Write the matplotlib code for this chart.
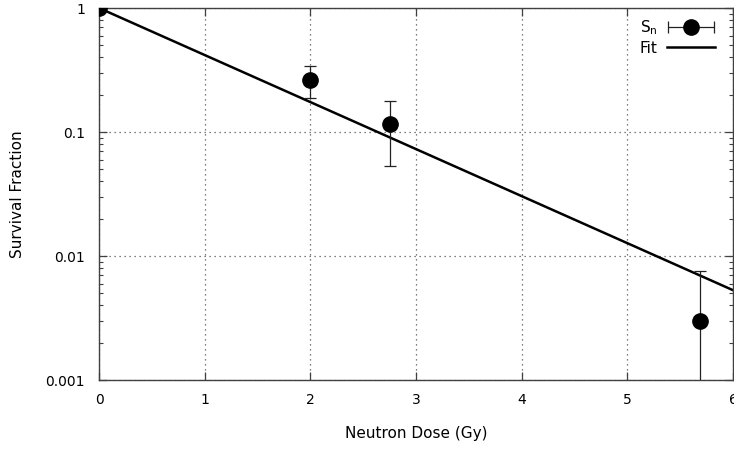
import numpy as np
import matplotlib
matplotlib.use('Agg')
import matplotlib.pyplot as plt
from matplotlib.ticker import LogLocator, NullFormatter, FixedLocator
from matplotlib.legend_handler import HandlerErrorbar

## data ##
dose = [0.0, 2.0, 2.75, 5.69]
sf = [1.0, 0.262, 0.115, 0.0030]
sf_hi = [1.0, 0.34, 0.178, 0.0075]      # top of error bar
sf_lo = [1.0, 0.187, 0.053, 0.0004]     # bottom of error bar (last one runs off the axis)

fit_dose = [0.0, 6.0]
fit_sf = [1.0, 0.0053]

x_ticks = [0, 1, 2, 3, 4, 5, 6]
y_ticks = [0.001, 0.01, 0.1, 1]
y_labels = ['0.001', '0.01', '0.1', '1']

axis_col = '#404040'

plt.rcParams['font.family'] = 'DejaVu Sans'
fig = plt.figure(figsize=(7.34, 4.5), dpi=100)
ax = fig.add_axes([99/734, 70/450, 634/734, 372/450])

yerr = [np.array(sf) - np.array(sf_lo), np.array(sf_hi) - np.array(sf)]
ax.errorbar(dose, sf, yerr=yerr, fmt='o', color='black', markersize=11,
            ecolor='#222222', elinewidth=0.9, capsize=4, capthick=0.9, zorder=3)
fit_line, = ax.plot(fit_dose, fit_sf, color='black', linewidth=1.8, zorder=2)

# legend sample drawn gnuplot-style: horizontal bar with caps and a dot
key_pt = ax.errorbar([np.nan], [np.nan], xerr=[0.1], fmt='o', color='black',
                     markersize=11, ecolor='#222222', elinewidth=0.9,
                     capsize=4, capthick=0.9)

ax.set_yscale('log')
ax.set_xlim(0, 6)
ax.set_ylim(0.001, 1)
ax.xaxis.set_major_locator(FixedLocator(x_ticks))
ax.set_yticks(y_ticks)
ax.set_yticklabels(y_labels)
ax.yaxis.set_minor_locator(LogLocator(base=10, subs=np.arange(2, 10)))
ax.yaxis.set_minor_formatter(NullFormatter())

ax.tick_params(which='both', direction='in', top=True, right=True,
               color=axis_col, labelsize=10, labelcolor='black')
ax.tick_params(which='major', length=6, width=0.9)
ax.tick_params(which='minor', length=3, width=0.8)
ax.tick_params(axis='x', pad=9)
ax.tick_params(axis='y', pad=10)
for s in ax.spines.values():
    s.set_color(axis_col)
    s.set_linewidth(1.0)

ax.grid(True, which='major', color='#555555', linestyle=(0, (1, 3)), linewidth=0.9)

ax.set_xlabel('Neutron Dose (Gy)', fontsize=11, labelpad=14)
ax.set_ylabel('Survival Fraction', fontsize=11, labelpad=15)

ax.legend([key_pt, fit_line], ['S$_\\mathregular{n}$', 'Fit'],
          loc='upper right', bbox_to_anchor=(0.993, 1.008), frameon=False,
          markerfirst=False, fontsize=11, handlelength=3.1, numpoints=1,
          labelspacing=0.2, handletextpad=0.65,
          handler_map={key_pt: HandlerErrorbar(xerr_size=1.5)})

plt.savefig('out.png', dpi=100)
